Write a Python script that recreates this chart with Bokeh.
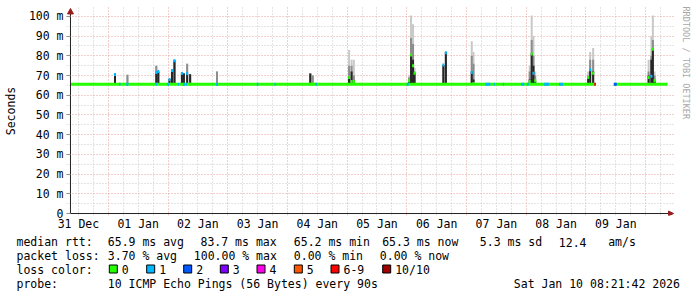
from bokeh.plotting import figure
from bokeh.models import Range1d, FixedTicker, ColumnDataSource, Title
from bokeh.embed import file_html
from bokeh.resources import INLINE
from bokeh.core.properties import value

FONT = "DejaVu Sans Mono"
FS = "11.5px"

# ---------------- data (x = hours since 31 Dec 00:00) ----------------
t_start, t_end = 8.8, 248.8
day_labels = ["31 Dec", "01 Jan", "02 Jan", "03 Jan", "04 Jan",
              "05 Jan", "06 Jan", "07 Jan", "08 Jan", "09 Jan"]
y_tick_values = [0, 10, 20, 30, 40, 50, 60, 70, 80, 90, 100]
y_tick_labels = ["0", "10 m", "20 m", "30 m", "40 m", "50 m",
                 "60 m", "70 m", "80 m", "90 m", "100 m"]

# median line baseline (ms) and the spans where data exist
base_median = 65.6
base_start = [8.8, 227.2]
base_end = [220.0, 248.8]

# spans on the baseline drawn in a loss colour (index into loss_labels)
mark_start = [28.4, 31.4, 43.1, 47.7, 52.0, 55.1, 67.5, 83.7, 90.8, 107.2,
              144.0, 175.6, 179.0, 182.6, 190.0, 192.4, 199.2, 205.2, 219.3, 227.2]
mark_end = [28.9, 31.9, 43.6, 48.4, 52.4, 55.6, 67.9, 84.3, 91.3, 107.8,
            144.8, 177.6, 179.4, 183.0, 191.2, 193.0, 201.2, 206.8, 220.0, 228.4]
mark_loss = [1, 1, 1, 1, 1, 1, 1, 1, 1, 1,
             1, 1, 1, 1, 1, 1, 1, 1, 6, 2]

# latency spikes: time, smoke top (light), mid smoke, dense smoke, median, loss
spike_t = [26.7, 31.7, 43.3, 44.1, 48.6, 49.6, 50.6, 53.6, 54.4, 55.7, 56.9, 67.7,
           105.2, 106.2, 120.8, 121.8, 122.7, 144.9, 145.7, 146.5, 147.1,
           158.7, 159.7, 170.1, 170.8, 193.4, 194.2, 194.9, 195.6,
           216.9, 217.7, 218.9, 241.2, 242.3, 242.9, 243.6]
spike_light = [71.0, 70.4, 75.0, 72.0, 68.3, 73.0, 78.0, 71.5, 71.0, 76.0, 70.7, 72.0,
               71.0, 70.0, 83.0, 78.0, 78.0, 70.0, 100.5, 96.0, 74.0,
               75.4, 82.0, 87.4, 82.0, 75.0, 100.5, 90.0, 72.0,
               72.0, 82.0, 84.0, 78.0, 90.0, 100.5, 72.0]
spike_mid = [71.0, 70.4, 75.0, 72.0, 68.3, 73.0, 78.0, 71.5, 71.0, 76.0, 70.7, 72.0,
             71.0, 70.0, 75.0, 75.0, 70.0, 69.0, 89.0, 86.0, 72.0,
             75.4, 82.0, 80.0, 76.0, 72.0, 88.0, 80.0, 70.0,
             70.0, 78.0, 78.0, 72.0, 80.0, 88.0, 70.0]
spike_dark = [71.0, 65.6, 71.0, 72.0, 68.3, 73.0, 77.5, 71.2, 71.0, 71.0, 70.7, 65.6,
              71.0, 65.6, 69.5, 72.0, 67.0, 67.3, 80.4, 78.0, 71.2,
              75.4, 82.0, 72.0, 68.0, 68.0, 81.0, 75.0, 67.3,
              69.0, 72.9, 72.0, 70.0, 78.0, 83.8, 67.3]
spike_med = [70.5, 65.6, 71.5, 72.0, 68.0, 72.5, 77.5, 71.0, 65.6, 71.0, 65.6, 65.6,
             65.6, 65.6, 69.0, 67.0, 67.0, 67.3, 80.4, 75.0, 71.2,
             75.4, 81.6, 71.6, 66.0, 67.0, 80.9, 71.2, 67.3,
             69.0, 72.9, 71.2, 69.0, 69.6, 83.4, 67.3]
spike_loss = [1, 1, 1, 1, 1, 1, 1, 1, 1, 1, 0, 1,
              0, 0, 0, 0, 0, 0, 0, 0, 0,
              1, 1, 1, 0, 0, 0, 1, 0,
              0, 1, 0, 0, 1, 0, 0]

loss_labels = ["0", "1", "2", "3", "4", "5", "6-9", "10/10"]
loss_colors = ["#26ff00", "#00b8ff", "#0059ff", "#7e00ff",
               "#ff00ea", "#ff5500", "#ff0000", "#a10000"]

stats_rtt = ["median rtt:", "65.9 ms avg", "83.7 ms max", "65.2 ms min",
             "65.3 ms now", "5.3 ms sd", "12.4", "am/s"]
stats_loss = ["packet loss:", "3.70 % avg", "100.00 % max", "0.00 % min", "0.00 % now"]
probe_text = ["probe:", "10 ICMP Echo Pings (56 Bytes) every 90s", "Sat Jan 10 08:21:42 2026"]
color_title = "loss color:"

# ---------------- geometry (page pixels) ----------------
AX_X, AX_Y = 67, 215            # pixel position of the axes origin
FRAME_L, FRAME_R, FRAME_T, FRAME_B = 63, 675, 6, 217
CHART_H = 233
PX_PER_H = 2.5
PX_PER_MS = 1.99


def hx(px):
    return t_start + (px - AX_X) / PX_PER_H


def vy(py):
    return (AX_Y - py) / PX_PER_MS


day_bounds = [24 * (i + 1) for i in range(len(day_labels))]
noons = [24 * i + 12 for i in range(len(day_labels))]
six_h = [h for h in range(12, 249, 6) if h % 24 != 0]

p = figure(width=697, height=CHART_H, output_backend="svg", toolbar_location=None,
           x_range=Range1d(hx(FRAME_L), hx(FRAME_R)),
           y_range=Range1d(vy(FRAME_B), vy(FRAME_T)),
           min_border_left=FRAME_L, min_border_right=697 - FRAME_R,
           min_border_top=FRAME_T, min_border_bottom=CHART_H - FRAME_B)
p.outline_line_color = None
p.background_fill_color = "white"
p.border_fill_color = "white"

# grids
p.xgrid.ticker = FixedTicker(ticks=day_bounds, minor_ticks=six_h)
p.ygrid.ticker = FixedTicker(ticks=y_tick_values,
                             minor_ticks=[v + 5 for v in y_tick_values[:-1]])
for g in (p.xgrid, p.ygrid):
    g.grid_line_color = "#e6a0a0"
    g.grid_line_dash = "1 2"
    g.grid_line_width = 1
    g.minor_grid_line_color = "#c8c8c8"
    g.minor_grid_line_dash = "1 2"

# axes (labels / ticks from bokeh, axis lines drawn below)
p.xaxis.ticker = FixedTicker(ticks=noons)
p.xaxis.major_label_overrides = {n: lab for n, lab in zip(noons, day_labels)}
p.xaxis.major_tick_out = 0
p.xaxis.major_tick_in = 0
p.xaxis.minor_tick_out = 0
p.xaxis.minor_tick_in = 0
p.xaxis.major_label_standoff = 1

p.yaxis.ticker = FixedTicker(ticks=y_tick_values)
p.yaxis.major_label_overrides = {v: lab for v, lab in zip(y_tick_values, y_tick_labels)}
p.yaxis.major_tick_out = 0
p.yaxis.major_tick_in = AX_X - FRAME_L
p.yaxis.minor_tick_out = 0
p.yaxis.minor_tick_in = 0
p.yaxis.major_tick_line_color = "#909090"
p.yaxis.major_label_standoff = 3
p.yaxis.axis_label = "Seconds"
p.yaxis.axis_label_standoff = 8
p.yaxis.axis_label_text_font = FONT
p.yaxis.axis_label_text_font_size = FS
p.yaxis.axis_label_text_font_style = "normal"
p.yaxis.axis_label_text_color = "#000000"

for ax in (p.xaxis, p.yaxis):
    ax.axis_line_color = None
    ax.major_label_text_font = FONT
    ax.major_label_text_font_size = FS
    ax.major_label_text_color = "#000000"

# smoke
W = 0.8
src = ColumnDataSource(dict(
    left=[t - W / 2 for t in spike_t], right=[t + W / 2 for t in spike_t],
    base=[base_median] * len(spike_t), light=spike_light, mid=spike_mid, dark=spike_dark,
    med=spike_med, color=[loss_colors[i] for i in spike_loss]))
p.quad(left="left", right="right", bottom="base", top="light", source=src,
       fill_color="#c8c8c8", line_color=None)
p.quad(left="left", right="right", bottom="base", top="mid", source=src,
       fill_color="#8c8c8c", line_color=None)
p.quad(left="left", right="right", bottom="base", top="dark", source=src,
       fill_color="#262626", line_color=None)

# median baseline
p.segment(x0=base_start, x1=base_end, y0=[base_median] * 2, y1=[base_median] * 2,
          line_color=loss_colors[0], line_width=3)
p.segment(x0=mark_start, x1=mark_end, y0=[base_median] * len(mark_start),
          y1=[base_median] * len(mark_start),
          line_color=[loss_colors[i] for i in mark_loss], line_width=3)
# spike medians
p.segment(x0="left", x1="right", y0="med", y1="med", source=src,
          line_color="color", line_width=3)

# axis lines with arrow heads
AXIS = "#222222"
ARROW = "#9a1c1c"
p.segment(x0=[t_start, t_start], y0=[0, 0], x1=[hx(669), t_start], y1=[0, vy(11)],
          line_color=AXIS, line_width=1)
p.patch(x=[hx(AX_X - 3), hx(AX_X), hx(AX_X + 3)], y=[vy(13.5), vy(8), vy(13.5)],
        fill_color=ARROW, line_color=ARROW)
p.patch(x=[hx(668), hx(673), hx(668)], y=[vy(AX_Y - 2.5), 0, vy(AX_Y + 2.5)],
        fill_color=ARROW, line_color=ARROW)

wm = Title(text="RRDTOOL / TOBI OETIKER", text_font=FONT, text_font_size="8.5px",
           text_color="#a8a8a8", text_font_style="normal", align="left")
p.add_layout(wm, "right")

# ---------------- stats block below the chart ----------------
STATS_H = 297 - CHART_H
q = figure(width=697, height=STATS_H, output_backend="svg", toolbar_location=None,
           x_axis_type=None, y_axis_type=None,
           x_range=Range1d(0, 697), y_range=Range1d(STATS_H, 0),
           min_border_left=0, min_border_right=0, min_border_top=0, min_border_bottom=0)
q.grid.visible = False
q.outline_line_color = None

rtt_x = [16, 107.3, 200, 293.3, 381.7, 479.3, 558.3, 607.7]
loss_x = [16, 107.3, 193.3, 293.3, 379.3]
probe_x = [16, 107.3, 513.3]
box_x = [108.3, 145.7, 182.7, 219.3, 256, 293.3, 330, 381.7]
ROW_Y = [y - CHART_H for y in (241.5, 255.5, 269, 283.5)]

texts = stats_rtt + stats_loss + [color_title] + loss_labels + probe_text
xs = rtt_x + loss_x + [16] + [b + 13 for b in box_x] + probe_x
ys = ([ROW_Y[0]] * len(stats_rtt) + [ROW_Y[1]] * len(stats_loss) + [ROW_Y[2]] +
      [ROW_Y[2]] * len(loss_labels) + [ROW_Y[3]] * len(probe_text))
q.text(x=xs, y=ys, text=texts, text_font=value(FONT), text_font_size=FS,
       text_baseline="middle", text_align="left", text_color="#000000")
q.rect(x=[b + 4.5 for b in box_x], y=[ROW_Y[2] - 0.5] * len(box_x), width=8, height=8,
       fill_color=loss_colors, line_color="#000000", line_width=1)

open("out.html", "w").write(file_html([p, q], INLINE))
